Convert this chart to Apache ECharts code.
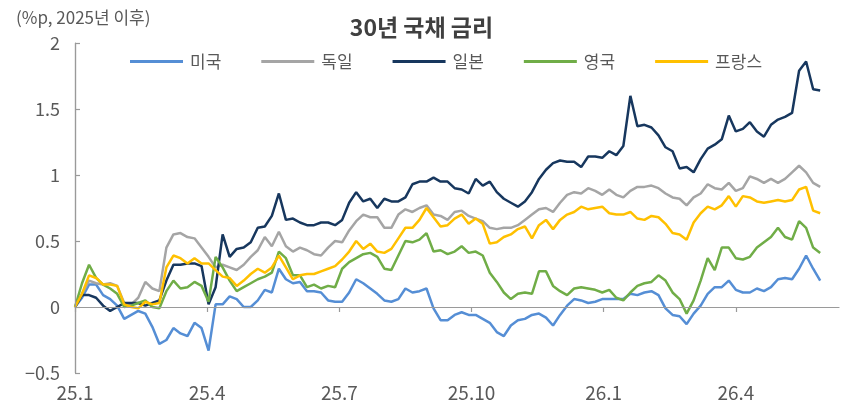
<!DOCTYPE html>
<html>
<head>
<meta charset="utf-8">
<script src="https://cdn.jsdelivr.net/npm/echarts@6/dist/echarts.min.js"></script>
<style>
  html, body { margin: 0; padding: 0; background: #fff; }
  #chart { width: 843px; height: 407px; }
</style>
</head>
<body>
<div id="chart"></div>
<script>
// 2025.1.1 이후 30년 국채 금리 변화 (%p), 약 4.84일 간격 샘플
var names = ["미국", "독일", "일본", "영국", "프랑스"];
var colors = ["#558ed5", "#a5a5a5", "#17375e", "#70ad47", "#ffc000"];
// 분기 라벨 (2025-01-01 기준 약 91일 간격)
var quarterLabels = ["25.1", "25.4", "25.7", "25.10", "26.1", "26.4"];
var yTicks = ["-0.5", "0", "0.5", "1", "1.5", "2"];

var us = [0, 0.07, 0.17, 0.17, 0.09, 0.06, 0.01, -0.09, -0.06, -0.03, -0.05, -0.15, -0.28, -0.25,
  -0.16, -0.2, -0.22, -0.12, -0.16, -0.33, 0.02, 0.02, 0.08, 0.06, 0.0, 0.0, 0.05,
  0.13, 0.11, 0.29, 0.21, 0.18, 0.19, 0.12, 0.12, 0.11, 0.05, 0.04, 0.04, 0.11, 0.21,
  0.18, 0.14, 0.1, 0.05, 0.04, 0.06, 0.14, 0.11, 0.12, 0.14, -0.01, -0.1, -0.1,
  -0.06, -0.04, -0.06, -0.06, -0.09, -0.12, -0.19, -0.22, -0.14, -0.1, -0.09, -0.06, -0.05, -0.08,
  -0.14, -0.06, 0.01, 0.06, 0.05, 0.03, 0.04, 0.06, 0.06, 0.06, 0.06, 0.1, 0.09,
  0.11, 0.12, 0.09, -0.01, -0.06, -0.07, -0.13, -0.05, 0.01, 0.1, 0.15, 0.15, 0.2, 0.13,
  0.11, 0.11, 0.14, 0.12, 0.15, 0.21, 0.22, 0.21, 0.29, 0.39, 0.29, 0.2];

var de = [0, 0.1, 0.2, 0.18, 0.17, 0.18, 0.16, 0.03, 0.02, 0.07, 0.19, 0.14, 0.12, 0.45,
  0.55, 0.56, 0.53, 0.52, 0.45, 0.38, 0.3, 0.32, 0.3, 0.28, 0.32, 0.38, 0.43,
  0.53, 0.46, 0.57, 0.46, 0.42, 0.45, 0.43, 0.4, 0.39, 0.45, 0.5, 0.49, 0.58, 0.65,
  0.7, 0.68, 0.68, 0.6, 0.6, 0.7, 0.74, 0.72, 0.75, 0.77, 0.7, 0.69, 0.66,
  0.72, 0.73, 0.69, 0.67, 0.65, 0.6, 0.59, 0.6, 0.6, 0.62, 0.66, 0.7, 0.74, 0.75,
  0.72, 0.79, 0.85, 0.87, 0.86, 0.9, 0.88, 0.85, 0.89, 0.85, 0.83, 0.88, 0.91,
  0.91, 0.92, 0.9, 0.86, 0.83, 0.82, 0.77, 0.83, 0.86, 0.93, 0.9, 0.89, 0.94, 0.88,
  0.9, 0.99, 0.97, 0.94, 0.97, 0.94, 0.97, 1.02, 1.07, 1.02, 0.94, 0.91];

var jp = [0, 0.09, 0.09, 0.07, 0.01, -0.03, 0.0, 0.03, 0.03, 0.03, 0.01, 0.03, 0.05, 0.2,
  0.32, 0.32, 0.33, 0.33, 0.31, 0.02, 0.15, 0.55, 0.38, 0.44, 0.45, 0.49, 0.6,
  0.61, 0.69, 0.86, 0.66, 0.67, 0.64, 0.62, 0.62, 0.64, 0.64, 0.62, 0.66, 0.79, 0.87,
  0.8, 0.82, 0.75, 0.82, 0.8, 0.8, 0.83, 0.93, 0.95, 0.95, 0.98, 0.95, 0.95,
  0.9, 0.89, 0.86, 0.97, 0.92, 0.95, 0.87, 0.82, 0.79, 0.76, 0.8, 0.87, 0.97, 1.04,
  1.09, 1.11, 1.1, 1.1, 1.06, 1.14, 1.14, 1.13, 1.18, 1.15, 1.22, 1.6, 1.37,
  1.38, 1.36, 1.3, 1.21, 1.18, 1.05, 1.06, 1.02, 1.12, 1.2, 1.23, 1.27, 1.45, 1.33,
  1.35, 1.4, 1.33, 1.29, 1.38, 1.42, 1.44, 1.47, 1.79, 1.86, 1.65, 1.64];

var uk = [0, 0.18, 0.32, 0.22, 0.17, 0.14, 0.1, 0.0, 0.01, 0.03, 0.05, 0.0, -0.01, 0.12,
  0.2, 0.14, 0.15, 0.19, 0.16, 0.04, 0.38, 0.3, 0.2, 0.12, 0.15, 0.18, 0.21,
  0.23, 0.26, 0.42, 0.37, 0.24, 0.24, 0.15, 0.17, 0.14, 0.16, 0.15, 0.29, 0.34, 0.37,
  0.4, 0.41, 0.38, 0.29, 0.28, 0.39, 0.5, 0.49, 0.51, 0.56, 0.42, 0.43, 0.4,
  0.42, 0.46, 0.41, 0.42, 0.39, 0.26, 0.19, 0.11, 0.06, 0.1, 0.11, 0.1, 0.27, 0.27,
  0.16, 0.12, 0.09, 0.14, 0.15, 0.14, 0.13, 0.11, 0.13, 0.07, 0.05, 0.11, 0.16,
  0.18, 0.19, 0.24, 0.2, 0.11, 0.06, -0.05, 0.05, 0.2, 0.37, 0.28, 0.45, 0.45, 0.37,
  0.36, 0.38, 0.45, 0.49, 0.53, 0.6, 0.53, 0.51, 0.65, 0.6, 0.45, 0.41];

var fr = [0, 0.1, 0.24, 0.22, 0.17, 0.17, 0.16, 0.02, 0.0, -0.01, 0.04, 0.02, 0.03, 0.3,
  0.39, 0.37, 0.33, 0.37, 0.33, 0.33, 0.28, 0.23, 0.22, 0.16, 0.2, 0.25, 0.29,
  0.26, 0.3, 0.39, 0.3, 0.21, 0.24, 0.25, 0.25, 0.27, 0.29, 0.31, 0.36, 0.42, 0.5,
  0.44, 0.48, 0.42, 0.41, 0.44, 0.52, 0.6, 0.6, 0.66, 0.75, 0.68, 0.61, 0.62,
  0.67, 0.7, 0.63, 0.67, 0.63, 0.48, 0.49, 0.53, 0.55, 0.59, 0.61, 0.52, 0.62, 0.66,
  0.59, 0.66, 0.7, 0.72, 0.76, 0.74, 0.75, 0.76, 0.71, 0.7, 0.7, 0.72, 0.67,
  0.66, 0.69, 0.68, 0.63, 0.56, 0.55, 0.51, 0.64, 0.71, 0.76, 0.74, 0.77, 0.84, 0.76,
  0.84, 0.83, 0.8, 0.79, 0.8, 0.81, 0.8, 0.81, 0.89, 0.91, 0.73, 0.71];

var seriesValues = [us, de, jp, uk, fr];
var sampleDays = 4.84; // 샘플 간격 (일)
var quarterStep = 91;  // 분기 눈금 간격 (일)
var lastDay = 526;     // x축 끝 (경과일)

var chart = echarts.init(document.getElementById("chart"));
var font = "'Noto Sans CJK KR', 'Noto Sans', sans-serif";
var grey = "#9a9a9a";
var textGrey = "#595959";

var series = seriesValues.map(function (vals, k) {
  return {
    name: names[k],
    type: "line",
    symbol: "none",
    lineStyle: { width: 2.5, color: colors[k] },
    itemStyle: { color: colors[k] },
    data: vals.map(function (v, i) { return [i * sampleDays, v]; })
  };
});

// 0 기준선과 세로축선 (축선 보강용)
series[0].markLine = {
  silent: true,
  symbol: "none",
  label: { show: false },
  lineStyle: { color: grey, width: 1.2, type: "solid" },
  data: [{ yAxis: 0 }, { xAxis: 0 }]
};
series[0].z = 1;

function quarterLabel(v) {
  var idx = Math.round(v / quarterStep);
  return quarterLabels[idx] || "";
}

var option = {
  animation: false,
  textStyle: { fontFamily: font },
  title: [
    {
      text: "30년 국채 금리",
      left: "center",
      top: 11,
      textStyle: { fontSize: 23, fontWeight: "bold", color: "#404040", fontFamily: font }
    },
    {
      text: "(%p, 2025년 이후)",
      left: 11,
      top: 4,
      textStyle: { fontSize: 17, fontWeight: "normal", color: textGrey, fontFamily: font }
    }
  ],
  legend: {
    data: names,
    left: 125,
    top: 48,
    icon: "rect",
    itemWidth: 53,
    itemHeight: 3,
    itemGap: 40,
    textStyle: { fontSize: 17, color: textGrey, fontFamily: font, padding: [0, 0, 0, 2] }
  },
  grid: { left: 75, right: 4, top: 43, bottom: 34, containLabel: false, outerBoundsMode: "none" },
  xAxis: {
    type: "value",
    min: 0,
    max: lastDay,
    interval: quarterStep,
    axisLine: { show: true, onZero: true, lineStyle: { color: grey, width: 1.2 } },
    axisTick: { show: true, inside: false, length: 5, lineStyle: { color: grey, width: 1.2 } },
    axisLabel: {
      showMaxLabel: false,
      margin: 10,
      fontSize: 19,
      color: textGrey,
      fontFamily: font,
      formatter: quarterLabel
    },
    splitLine: { show: false }
  },
  yAxis: {
    type: "value",
    min: -0.5,
    max: 2,
    interval: 0.5,
    axisLine: { show: true, lineStyle: { color: grey, width: 1.2 } },
    axisTick: { show: true, inside: true, length: 5, lineStyle: { color: grey, width: 1.2 } },
    axisLabel: {
      margin: 15,
      fontSize: 18,
      color: textGrey,
      fontFamily: font,
      formatter: function (v) {
        var s = yTicks[Math.round((v + 0.5) / 0.5)];
        return s.replace("-", "\u2212");
      }
    },
    splitLine: { show: false }
  },
  series: series
};

chart.setOption(option);
</script>
</body>
</html>
